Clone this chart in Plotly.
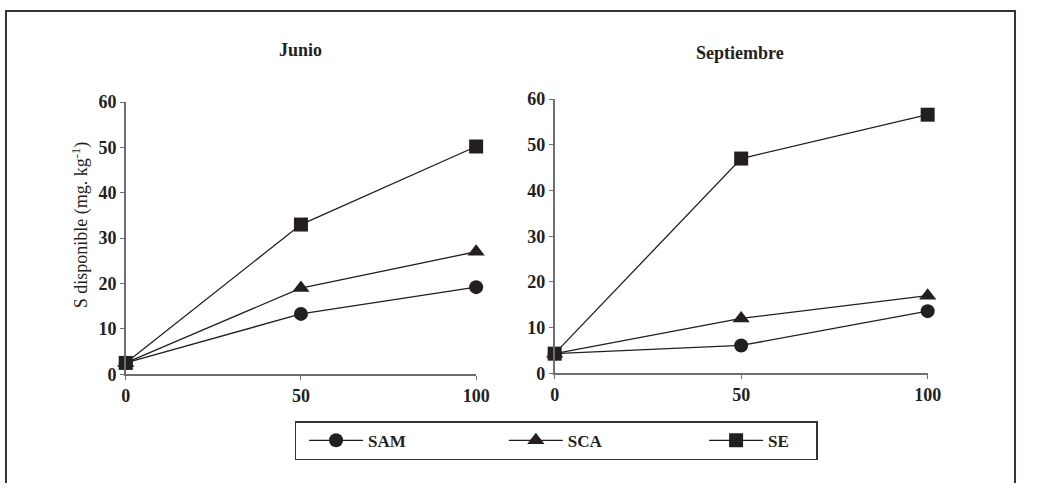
import plotly.graph_objects as go

# Dosis (x) y azufre disponible (mg kg-1) por tratamiento y mes
dosis = [0, 50, 100]
junio_sam = [2.5, 13.3, 19.2]
junio_sca = [2.5, 19.0, 27.0]
junio_se = [2.5, 33.0, 50.2]
sept_sam = [4.3, 6.1, 13.6]
sept_sca = [4.3, 12.0, 17.0]
sept_se = [4.3, 47.0, 56.6]

series = ["SAM", "SCA", "SE"]
symbols = {"SAM": "circle", "SCA": "triangle-up", "SE": "square"}
sizes = {"SAM": 14, "SCA": 15, "SE": 14}
# Relleno con espacios duros para separar las entradas de la leyenda
NBSP = "\u00a0"
legend_pad = {"SAM": 20, "SCA": 21, "SE": 5}

# La página añade 8 px de margen alrededor del gráfico
PAGE_W, PAGE_H, PAD = 1046, 499, 8
W, H = PAGE_W - 2 * PAD, PAGE_H - 2 * PAD
FONT = "Liberation Serif"
INK = "#231f20"

def px_x(p):
    return (p - PAD) / W

def px_y(p):
    return (H - (p - PAD)) / H

fig = go.Figure()

panels = [
    ("x", "y", {"SAM": junio_sam, "SCA": junio_sca, "SE": junio_se}, True),
    ("x2", "y2", {"SAM": sept_sam, "SCA": sept_sca, "SE": sept_se}, False),
]
for xa, ya, data, show in panels:
    for name in series:
        fig.add_trace(go.Scatter(
            x=dosis, y=data[name], name=name + NBSP * legend_pad[name],
            xaxis=xa, yaxis=ya,
            mode="lines+markers", showlegend=show, cliponaxis=False,
            line=dict(color=INK, width=1.3),
            marker=dict(symbol=symbols[name], size=sizes[name], color=INK),
        ))

tick_font = dict(family=FONT, size=18, color=INK, weight="bold")
axis_common = dict(
    showgrid=False, zeroline=False, showline=True, linecolor="#6d6e71",
    linewidth=1.5, ticks="outside", ticklen=4, tickcolor="#6d6e71",
    tickfont=tick_font,
)

fig.update_layout(
    width=W, height=H, autosize=False,
    margin=dict(l=0, r=0, t=0, b=0),
    paper_bgcolor="white", plot_bgcolor="white",
    xaxis=dict(domain=[px_x(131), px_x(488)], range=[0, 100],
               tickvals=dosis, anchor="y", **axis_common),
    yaxis=dict(domain=[px_y(388), px_y(104)], range=[0, 60], dtick=10,
               anchor="x", ticklabelstandoff=0, **axis_common),
    xaxis2=dict(domain=[px_x(568), px_x(948)], range=[0, 100],
                tickvals=dosis, anchor="y2", **axis_common),
    yaxis2=dict(domain=[px_y(387), px_y(101)], range=[0, 60], dtick=10,
                anchor="x2", ticklabelstandoff=0, **axis_common),
    legend=dict(
        orientation="h", x=px_x(303), y=px_y(437), xanchor="left", yanchor="top",
        bordercolor="#333333", borderwidth=1.5, bgcolor="white",
        font=dict(family=FONT, size=17, color=INK, weight="bold"),
        itemwidth=54, indentation=8, itemsizing="trace",
    ),
    showlegend=True,
)

# Títulos de los paneles y del eje Y
fig.add_annotation(text="<b>Junio</b>", x=px_x(309), y=px_y(50), xref="paper", yref="paper",
                   xanchor="center", yanchor="middle", showarrow=False,
                   font=dict(family=FONT, size=18, color=INK))
fig.add_annotation(text="<b>Septiembre</b>", x=px_x(757), y=px_y(53), xref="paper", yref="paper",
                   xanchor="center", yanchor="middle", showarrow=False,
                   font=dict(family=FONT, size=18, color=INK))
fig.add_annotation(text="S disponible (mg. kg<sup>-1</sup>)", x=px_x(85), y=px_y(232),
                   xref="paper", yref="paper", xanchor="center", yanchor="middle",
                   showarrow=False, textangle=-90,
                   font=dict(family=FONT, size=18, color=INK))

# Marco exterior, pegado al borde de la figura
fig.add_shape(type="rect", xref="paper", yref="paper",
              x0=1 / W, x1=(W - 1) / W, y0=-0.1, y1=(H - 1) / H,
              line=dict(color="#333333", width=2))

fig.write_html("out.html")
